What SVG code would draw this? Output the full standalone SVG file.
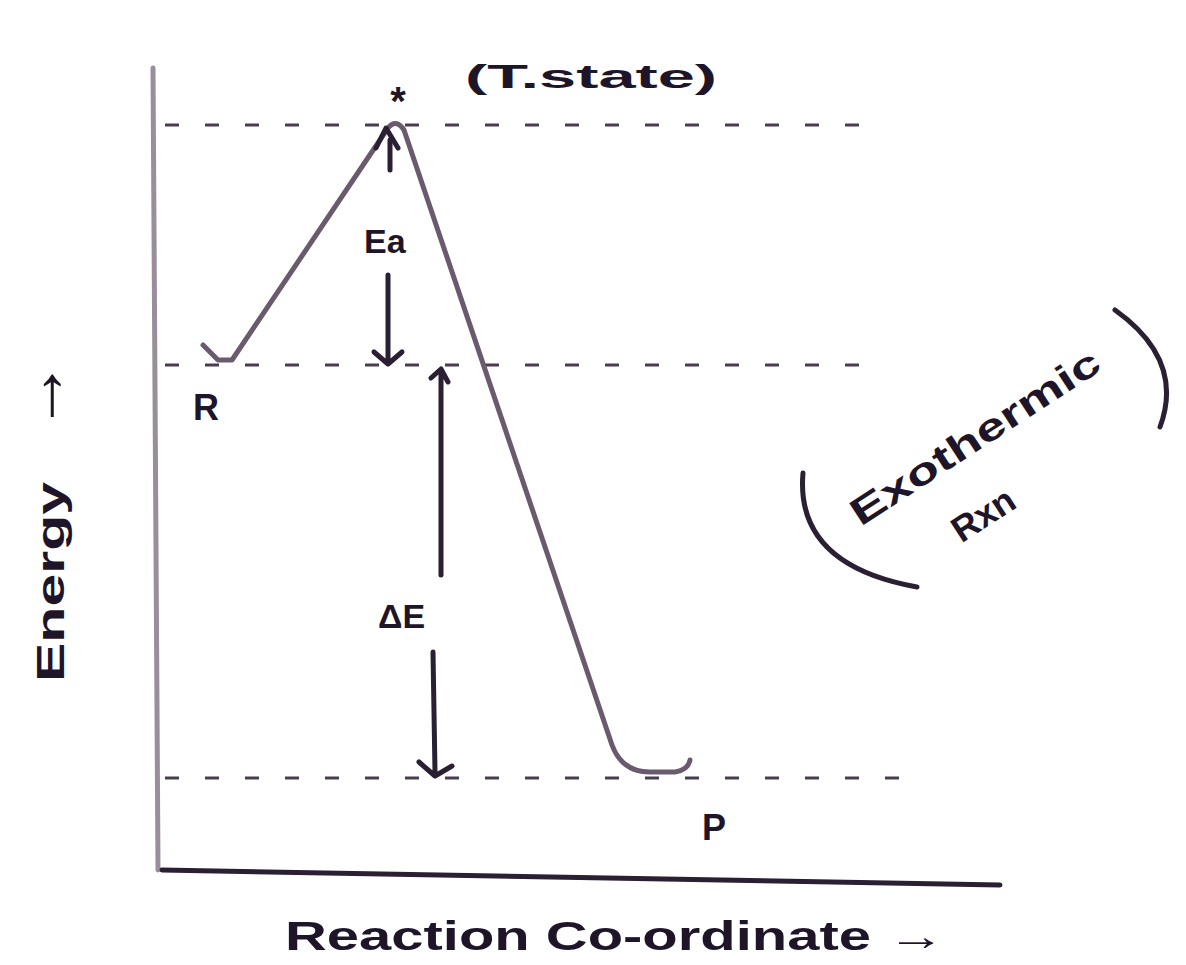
<svg xmlns="http://www.w3.org/2000/svg" width="1186" height="965" viewBox="0 0 1186 965">
<style>
.ink{fill:none;stroke:#2a1f33;stroke-width:5;stroke-linecap:round;stroke-linejoin:round}
.axis{fill:none;stroke:#9a8d9c;stroke-width:5;stroke-linecap:round}
.curve{fill:none;stroke:#6a5a6e;stroke-width:5;stroke-linecap:round;stroke-linejoin:round}
.dash{fill:none;stroke:#4a3d50;stroke-width:3;stroke-dasharray:14 26}
.t{font-family:"Liberation Sans",Arial,sans-serif;fill:#1e1528;font-weight:bold}
</style>
<rect width="1186" height="965" fill="#ffffff"/>
<g id="axes">
<path class="axis" d="M153,68 L158,870"/>
<path class="ink" d="M162,870 L1000,885"/>
</g>
<g id="levels">
<path class="dash" d="M165,125 L860,125"/>
<path class="dash" d="M165,365 L860,365"/>
<path class="dash" d="M165,778 L915,778"/>
</g>
<g id="profile">
<path class="curve" d="M203,345 L218,360 L232,360 L388,128 Q396,118 404,130 L612,745 Q622,772 650,772 L675,772 Q688,770 690,760"/>
<path class="ink" d="M376,148 L386,128 L398,148"/>
</g>
<g id="connectors">
<path class="ink" d="M390,140 L390,170"/>
<path class="ink" d="M388,275 L388,362 M374,352 L388,364 L402,352"/>
<path class="ink" d="M441,375 L441,575 M431,378 L441,369 L448,382"/>
<path class="ink" d="M433,652 L435,772 M419,762 L435,776 L452,766"/>
</g>
<g id="labels">
<text class="t" x="398" y="115" font-size="40" text-anchor="middle">*</text>
<text class="t" x="465" y="88" font-size="34" textLength="252" lengthAdjust="spacingAndGlyphs">(T.state)</text>
<text class="t" x="364" y="253" font-size="34">Ea</text>
<text class="t" x="193" y="420" font-size="36">R</text>
<text class="t" x="378" y="628" font-size="34">ΔE</text>
<text class="t" x="702" y="840" font-size="36">P</text>
<text class="t" transform="translate(64,682) rotate(-90)" font-size="38"><tspan textLength="200" lengthAdjust="spacingAndGlyphs">Energy</tspan><tspan dx="50" font-size="72">→</tspan></text>
<text class="t" transform="translate(982,448) rotate(-33)" font-size="38" text-anchor="middle" textLength="290" lengthAdjust="spacingAndGlyphs">Exothermic</text>
<text class="t" transform="translate(990,525) rotate(-33)" font-size="36" text-anchor="middle">Rxn</text>
<path class="ink" d="M803,473 Q795,565 917,587"/>
<path class="ink" d="M1115,310 Q1185,360 1160,427"/>
<text class="t" x="285" y="950" font-size="40" textLength="660" lengthAdjust="spacingAndGlyphs">Reaction Co-ordinate →</text>
</g>
</svg>
